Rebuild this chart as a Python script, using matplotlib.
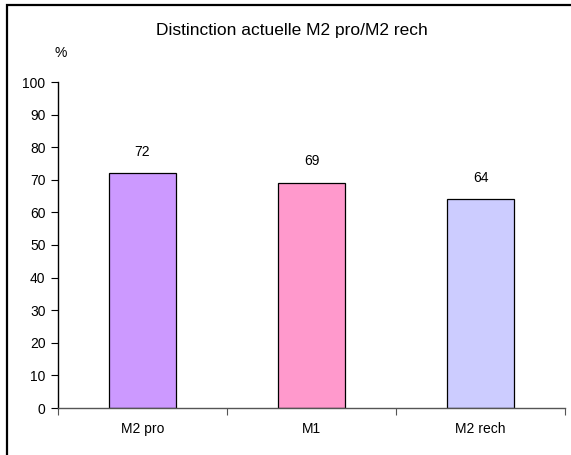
import matplotlib.pyplot as plt
from matplotlib.patches import Rectangle

categories = ['M2 pro', 'M1', 'M2 rech']
values = [72, 69, 64]
colors = ['#CC99FF', '#FF99CC', '#CCCCFF']

W, H = 571, 455
fig = plt.figure(figsize=(W / 100, H / 100), dpi=100)
plt.rcParams['font.family'] = ['Liberation Sans', 'DejaVu Sans']

# outer frame, runs off the right and bottom edges
fig.patches.append(Rectangle((7 / W, -0.1), 1.2, (H - 5) / H + 0.1,
                             transform=fig.transFigure, fill=False,
                             edgecolor='black', linewidth=1.6))

ax = fig.add_axes([58 / W, (H - 408) / H, (565 - 58) / W, (408 - 82) / H])
x = list(range(len(categories)))
ax.bar(x, values, width=0.4, color=colors, edgecolor='black', linewidth=0.9)
for xi, v in zip(x, values):
    ax.text(xi, v + 4.5, str(v), ha='center', va='bottom', fontsize=10)

ax.set_xlim(-0.5, len(categories) - 0.5)
ax.set_ylim(0, 100)
ax.set_yticks(range(0, 101, 10))
ax.set_xticks([i - 0.5 for i in range(len(categories) + 1)])
ax.set_xticklabels([])
ax.set_xticks(x, minor=True)
ax.set_xticklabels(categories, minor=True, fontsize=10)
ax.tick_params(axis='x', which='minor', length=0, pad=10)
ax.tick_params(axis='x', which='major', length=5, direction='out', color='#555555')
ax.tick_params(axis='y', length=5, direction='out', labelsize=10, pad=4)

for s in ['top', 'right']:
    ax.spines[s].set_visible(False)
ax.spines['left'].set_linewidth(1.0)
ax.spines['bottom'].set_color('#555555')
ax.spines['bottom'].set_linewidth(1.0)

fig.text(292 / W, 1 - 30 / H, 'Distinction actuelle M2 pro/M2 rech',
         ha='center', va='center', fontsize=12.5)
fig.text(61 / W, 1 - 53 / H, '%', ha='center', va='center', fontsize=10)

fig.savefig('out.png', dpi=100)
plt.close(fig)
